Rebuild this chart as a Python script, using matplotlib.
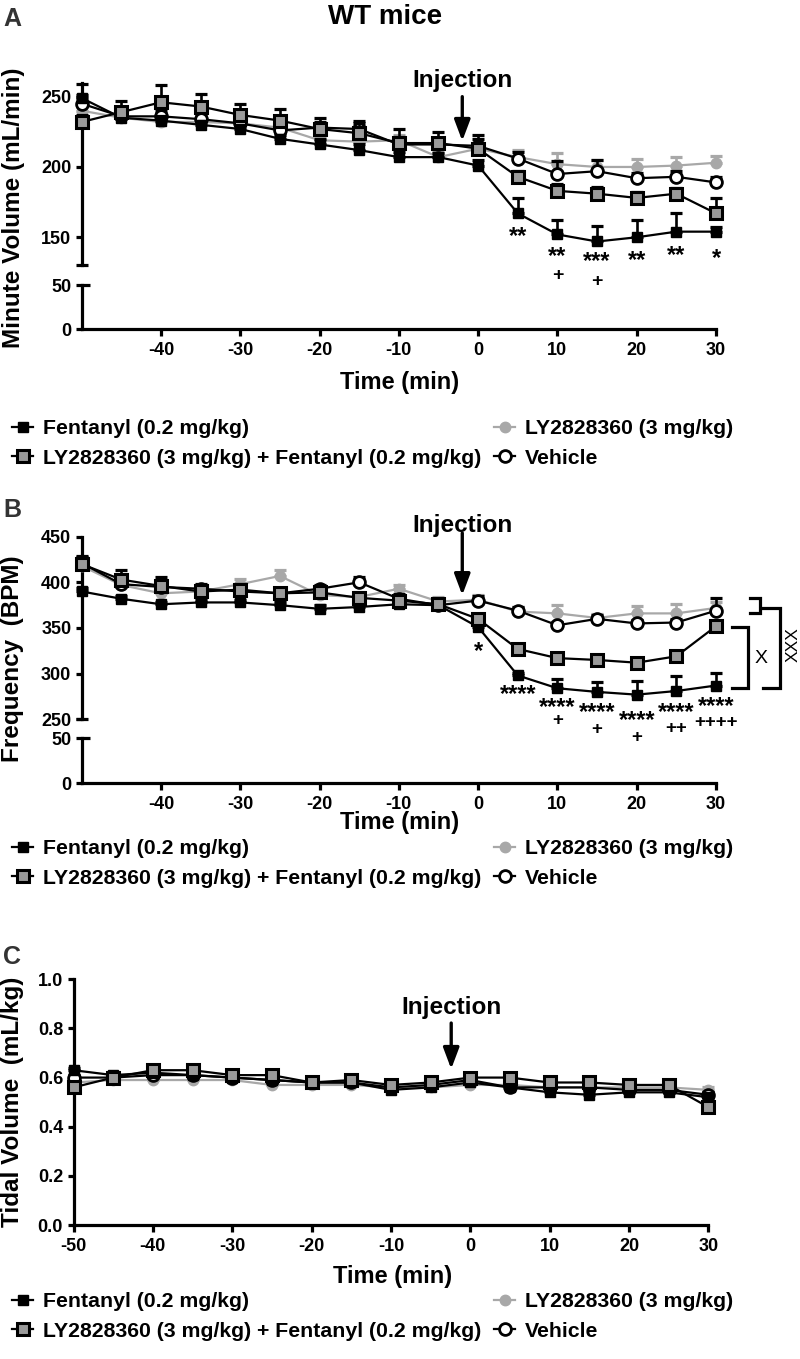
import numpy as np
import matplotlib
matplotlib.use("Agg")
import matplotlib.pyplot as plt
from matplotlib.lines import Line2D
from matplotlib.patches import ArrowStyle
import matplotlib.transforms as mtransforms

plt.rcParams['font.family'] = ['Liberation Sans', 'DejaVu Sans']
plt.rcParams['font.weight'] = 'bold'
plt.rcParams['axes.unicode_minus'] = False

# ---------------- data ----------------
time = [-50, -45, -40, -35, -30, -25, -20, -15, -10, -5, 0, 5, 10, 15, 20, 25, 30]

labels = ["Fentanyl (0.2 mg/kg)",
          "LY2828360 (3 mg/kg) + Fentanyl (0.2 mg/kg)",
          "LY2828360 (3 mg/kg)",
          "Vehicle"]

# Panel A: minute volume (mL/min)
mv_fent = [249, 235, 233, 230, 227, 220, 216, 212, 207, 207, 201, 167, 152, 147, 150, 154, 154]
mv_fent_err = [10, 4, 3, 3, 3, 3, 4, 4, 4, 3, 4, 11, 10, 11, 12, 13, 3]
mv_lyf = [232, 239, 246, 243, 237, 233, 227, 224, 217, 217, 213, 193, 183, 181, 178, 181, 167]
mv_lyf_err = [5, 8, 12, 9, 8, 8, 8, 9, 10, 8, 10, 4, 5, 5, 4, 4, 11]
mv_ly = [240, 235, 232, 232, 231, 228, 219, 218, 219, 207, 213, 207, 202, 200, 200, 201, 203]
mv_ly_err = [4, 3, 3, 3, 3, 3, 3, 3, 4, 4, 4, 5, 8, 5, 6, 6, 5]
mv_veh = [245, 236, 236, 234, 231, 226, 228, 227, 216, 216, 215, 206, 195, 197, 192, 193, 189]
mv_veh_err = [6, 3, 4, 4, 3, 4, 4, 4, 5, 4, 5, 5, 9, 8, 4, 4, 4]

# Panel B: frequency (BPM)
fr_fent = [390, 382, 376, 378, 378, 375, 371, 373, 376, 375, 351, 298, 284, 280, 277, 281, 287]
fr_fent_err = [4, 3, 3, 3, 3, 3, 4, 4, 4, 4, 4, 3, 10, 11, 15, 16, 14]
fr_lyf = [420, 403, 396, 390, 392, 388, 389, 383, 380, 376, 360, 327, 317, 315, 312, 319, 352]
fr_lyf_err = [8, 10, 10, 6, 6, 5, 4, 5, 5, 5, 4, 4, 4, 4, 4, 5, 6]
fr_ly = [418, 397, 388, 390, 398, 407, 386, 384, 393, 379, 381, 368, 366, 361, 366, 366, 372]
fr_ly_err = [5, 4, 4, 4, 6, 6, 4, 5, 4, 5, 5, 5, 9, 4, 8, 10, 6]
fr_veh = [421, 398, 395, 393, 390, 388, 393, 400, 382, 375, 380, 369, 353, 360, 355, 356, 369]
fr_veh_err = [8, 6, 5, 5, 5, 4, 4, 6, 5, 5, 5, 4, 4, 4, 4, 4, 14]

# Panel C: tidal volume (mL/kg)
tv_fent = [0.63, 0.61, 0.62, 0.61, 0.60, 0.59, 0.58, 0.58, 0.55, 0.56, 0.58, 0.56, 0.54, 0.53, 0.54, 0.54, 0.52]
tv_fent_err = [0.01] * 17
tv_lyf = [0.56, 0.60, 0.63, 0.63, 0.61, 0.61, 0.58, 0.59, 0.57, 0.58, 0.60, 0.60, 0.58, 0.58, 0.57, 0.57, 0.48]
tv_lyf_err = [0.01] * 17
tv_ly = [0.58, 0.59, 0.59, 0.59, 0.59, 0.57, 0.57, 0.57, 0.56, 0.56, 0.57, 0.57, 0.56, 0.56, 0.56, 0.56, 0.55]
tv_ly_err = [0.01] * 17
tv_veh = [0.60, 0.60, 0.61, 0.61, 0.60, 0.59, 0.58, 0.58, 0.56, 0.57, 0.59, 0.56, 0.56, 0.56, 0.55, 0.55, 0.53]
tv_veh_err = [0.01] * 17

# significance marks: (time, text)
sigA_star = [(5, "**"), (10, "**"), (15, "***"), (20, "**"), (25, "**"), (30, "*")]
sigA_plus = [(10, "+"), (15, "+")]
sigB_star = [(0, "*"), (5, "****"), (10, "****"), (15, "****"), (20, "****"), (25, "****"), (30, "****")]
sigB_plus = [(10, "+"), (15, "+"), (20, "+"), (25, "++"), (30, "++++")]

# vertical placement of the marks (glyph centres, data units)
posA_star = [152, 138, 134, 135, 138.6, 136]
posA_plus = [124.4, 120.3]
posB_star = [326, 279.5, 265, 260, 251, 259.5, 266.7]
posB_plus = [250.5, 241.5, 232, 242.5, 249]

# ---------------- styles ----------------
W, H = 800, 1359
fig = plt.figure(figsize=(W / 100, H / 100), dpi=100)

GREY = '#a8a8a8'
SQGREY = '#9a9a9a'
LW = 1.6
SPW = 2.3

styles = [
    dict(color='black', marker='s', ms=7.0, mfc='black', mec='black', mew=1.0),
    dict(color='black', marker='s', ms=8.8, mfc=SQGREY, mec='black', mew=2.2),
    dict(color=GREY, marker='o', ms=7.5, mfc=GREY, mec=GREY, mew=1.0),
    dict(color='black', marker='o', ms=8.5, mfc='white', mec='black', mew=2.0),
]
draw_order = [2, 3, 0, 1]


def add_ax(left, top, right, bottom):
    return fig.add_axes([left / W, 1 - bottom / H, (right - left) / W, (bottom - top) / H])


def style_axis(ax):
    for s in ['top', 'right']:
        ax.spines[s].set_visible(False)
    for s in ['left', 'bottom']:
        ax.spines[s].set_linewidth(SPW)
    ax.tick_params(axis='both', width=SPW, labelsize=13, colors='black')
    ax.tick_params(axis='x', length=5, pad=4.5)
    ax.tick_params(axis='y', length=4, pad=3.5)
    ax.set_facecolor('none')


def plot_series(ax, series, errs):
    for k, i in enumerate(draw_order):
        st = styles[i]
        y = np.array(series[i], dtype=float)
        e = np.array(errs[i], dtype=float)
        eb = ax.errorbar(time, y, yerr=[np.zeros_like(e), e], fmt='none',
                         ecolor=st['color'], elinewidth=1.9, capsize=4.2, capthick=2.3,
                         zorder=2 + 2 * k)
        for art in eb.get_children():
            art.set_clip_on(False)
        ax.plot(time, y, lw=LW, zorder=3 + 2 * k, clip_on=False, **st)


def marks(ax, items, pos, fs, k):
    for (tt, s), yy in zip(items, pos):
        ax.annotate(s, xy=(tt, yy), xytext=(0, -k * fs), textcoords='offset points',
                    ha='center', va='baseline', fontsize=fs, fontweight='bold',
                    annotation_clip=False)


def injection(ax, tx, y_text, y_top, y_tip):
    ax.text(tx, y_text, 'Injection', ha='center', va='center', fontsize=17.5,
            fontweight='bold', clip_on=False)
    ax.annotate('', xy=(tx, y_tip), xytext=(tx, y_top),
                arrowprops=dict(arrowstyle=ArrowStyle('-|>', head_length=0.85, head_width=0.32),
                                mutation_scale=15, lw=2.4, color='black',
                                shrinkA=0, shrinkB=0),
                annotation_clip=False)


def legend(top_px):
    handles = [Line2D([], [], lw=LW, **styles[i]) for i in range(4)]
    fig.legend(handles, labels, loc='upper left', bbox_to_anchor=(12 / W, 1 - top_px / H),
               ncol=2, frameon=False, prop=dict(size=15.3, weight='bold'),
               handlelength=1.0, handletextpad=0.45, columnspacing=0.62,
               labelspacing=0.5, borderpad=0, borderaxespad=0)


def xlab(x, y):
    fig.text(x / W, 1 - y / H, 'Time (min)', ha='center', va='center', fontsize=17, fontweight='bold')


def ylab(x, y, s):
    fig.text(x / W, 1 - y / H, s, ha='center', va='center', rotation=90, fontsize=17.5,
             fontweight='bold')


def break_caps(ax_up, ax_low, y_up, y_low):
    ax_up.plot([-50], [y_up], marker='_', ms=8.5, mew=SPW, color='black', clip_on=False, zorder=20)
    ax_low.plot([-50], [y_low], marker=1, ms=5.5, mew=SPW, color='black', clip_on=False, zorder=20)


X_L, X_R = 81.7, 716
STAR_FS, STAR_K = 17, 0.36
PLUS_FS, PLUS_K = 14, 0.35

# ---------------- Panel A ----------------
aU = add_ax(X_L, 82.6, X_R, 265.4)
aL = add_ax(X_L, 285, X_R, 329.3)
for ax in (aU, aL):
    style_axis(ax)
    ax.set_xlim(-50, 30)
aU.set_ylim(130, 260)
aU.spines['bottom'].set_visible(False)
aU.tick_params(axis='x', bottom=False, labelbottom=False)
aU.set_yticks([150, 200, 250])
aL.set_ylim(0, 50)
aL.set_yticks([0, 50])
aL.set_xticks(range(-40, 31, 10))
break_caps(aU, aL, 130, 50)
plot_series(aU, [mv_fent, mv_lyf, mv_ly, mv_veh], [mv_fent_err, mv_lyf_err, mv_ly_err, mv_veh_err])
marks(aU, sigA_star, posA_star, STAR_FS, STAR_K)
marks(aU, sigA_plus, posA_plus, PLUS_FS, PLUS_K)
injection(aU, -2, 261.8, 250, 218.5)
ylab(14, 208, 'Minute Volume (mL/min)')
xlab(400, 382)
legend(419)
fig.text(12 / W, 1 - 19 / H, 'A', ha='center', va='center', fontsize=18, fontweight='bold', color='#333333')
fig.text(385 / W, 1 - 17 / H, 'WT mice', ha='center', va='center', fontsize=20, fontweight='bold')

# ---------------- Panel B ----------------
bU = add_ax(X_L, 536.7, X_R, 719.3)
bL = add_ax(X_L, 738.3, X_R, 783.3)
for ax in (bU, bL):
    style_axis(ax)
    ax.set_xlim(-50, 30)
bU.set_ylim(250, 450)
bU.spines['bottom'].set_visible(False)
bU.tick_params(axis='x', bottom=False, labelbottom=False)
bU.set_yticks([250, 300, 350, 400, 450])
bL.set_ylim(0, 50)
bL.set_yticks([0, 50])
bL.set_xticks(range(-40, 31, 10))
break_caps(bU, bL, 250, 50)
plot_series(bU, [fr_fent, fr_lyf, fr_ly, fr_veh], [fr_fent_err, fr_lyf_err, fr_ly_err, fr_veh_err])
marks(bU, sigB_star, posB_star, STAR_FS, STAR_K)
marks(bU, sigB_plus, posB_plus, PLUS_FS - 0.5, PLUS_K)
injection(bU, -2, 462.8, 454, 386)

# group comparison brackets (x in axes fraction, y in data)
trB = mtransforms.blended_transform_factory(bU.transAxes, bU.transData)


def bracket(x0, x1, y0, y1):
    bU.add_line(Line2D([x0, x1, x1, x0], [y0, y0, y1, y1], transform=trB, color='black',
                       lw=SPW, clip_on=False, solid_joinstyle='miter'))


bracket(1.0536, 1.0694, 382.5, 366.1)
bracket(1.0248, 1.051, 351.4, 284)
bracket(1.074, 1.1008, 371.6, 284)
bU.text(1.071, 316.8, 'X', transform=trB, ha='center', va='center', fontsize=14,
        fontweight='normal', clip_on=False)
bU.text(1.1215, 331.4, 'XXX', transform=trB, ha='center', va='center', fontsize=12.5,
        fontweight='normal', rotation=90, clip_on=False)

ylab(13, 659, 'Frequency  (BPM)')
xlab(400, 823)
legend(839)
fig.text(12 / W, 1 - 510 / H, 'B', ha='center', va='center', fontsize=18, fontweight='bold', color='#333333')

# ---------------- Panel C ----------------
cA = add_ax(73.5, 979.3, 708.3, 1225)
style_axis(cA)
cA.set_xlim(-50, 30)
cA.set_ylim(0, 1.0)
cA.set_yticks(np.arange(0, 1.01, 0.2))
cA.set_yticklabels(['0.0', '0.2', '0.4', '0.6', '0.8', '1.0'])
cA.set_xticks(range(-50, 31, 10))
plot_series(cA, [tv_fent, tv_lyf, tv_ly, tv_veh], [tv_fent_err, tv_lyf_err, tv_ly_err, tv_veh_err])
injection(cA, -2.4, 0.884, 0.822, 0.635)
ylab(13, 1102, 'Tidal Volume  (mL/kg)')
xlab(393, 1277)
legend(1292)
fig.text(12 / W, 1 - 957 / H, 'C', ha='center', va='center', fontsize=18, fontweight='bold', color='#333333')

fig.savefig('out.png', dpi=100)
